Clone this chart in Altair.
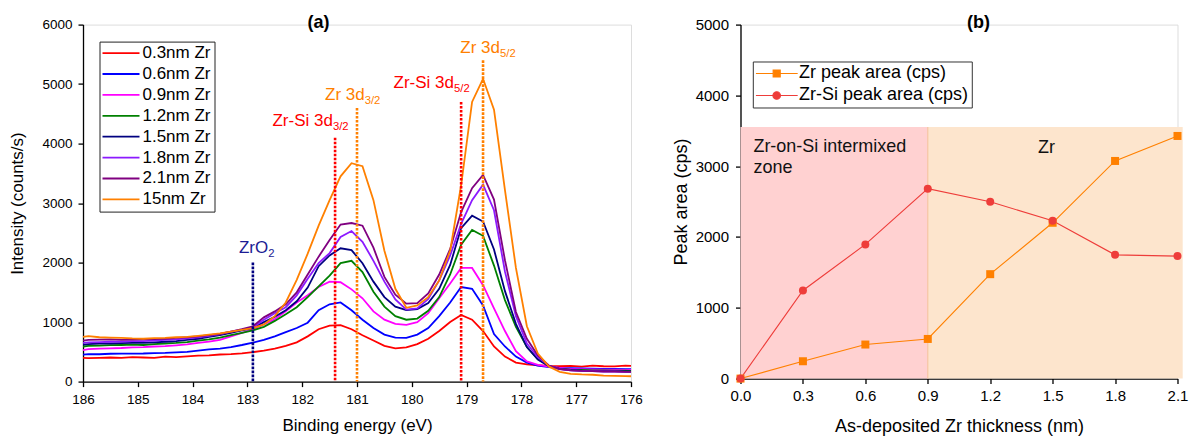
import altair as alt
import pandas as pd

FONT = "Liberation Sans"

# ---------------- (a) Zr 3d XPS spectra ----------------
energy = [186.0, 185.9, 185.7, 185.5, 185.3, 185.1, 184.9, 184.7, 184.5, 184.3,
          184.1, 183.9, 183.7, 183.5, 183.3, 183.1, 182.9, 182.7, 182.5, 182.3,
          182.1, 181.9, 181.7, 181.5, 181.3, 181.1, 180.9, 180.7, 180.5, 180.3,
          180.1, 179.9, 179.7, 179.5, 179.3, 179.1, 178.9, 178.7, 178.5, 178.3,
          178.1, 177.9, 177.7, 177.5, 177.3, 177.1, 176.9, 176.7, 176.5, 176.3,
          176.1, 176.0]

zr_03 = [400, 395, 400, 405, 400, 410, 405, 400, 418, 412, 425, 438, 440, 455, 462, 475,
         495, 520, 555, 600, 660, 760, 880, 940, 950, 880, 780, 690, 600, 560, 575, 630,
         720, 850, 1000, 1120, 1040, 850, 590, 420, 320, 290, 275, 265, 260, 265, 250, 270,
         258, 255, 270, 265]
zr_06 = [455, 462, 460, 468, 470, 470, 472, 480, 482, 490, 500, 520, 540, 555, 580, 615,
         655, 700, 760, 830, 900, 990, 1200, 1300, 1330, 1200, 1040, 900, 790, 740, 735, 790,
         900, 1100, 1330, 1590, 1560, 1280, 800, 590, 420, 320, 270, 245, 232, 225, 220, 218,
         215, 212, 210, 208]
zr_09 = [530, 545, 555, 560, 565, 575, 580, 590, 595, 610, 625, 650, 670, 700, 760, 820,
         880, 960, 1050, 1180, 1330, 1450, 1590, 1680, 1670, 1550, 1400, 1180, 1040, 970, 955, 1000,
         1150, 1400, 1650, 1910, 1910, 1620, 1230, 850, 510, 340, 280, 250, 230, 215, 210, 205,
         200, 200, 195, 195]
zr_12 = [590, 600, 605, 612, 615, 620, 615, 630, 640, 650, 665, 690, 710, 740, 780, 820,
         860, 920, 1020, 1130, 1250, 1420, 1600, 1780, 1990, 2030, 1840, 1510, 1260, 1100, 1040, 1060,
         1190, 1420, 1800, 2300, 2550, 2450, 1950, 1370, 920, 580, 380, 265, 215, 200, 195, 190,
         190, 185, 185, 180]
zr_15 = [620, 630, 640, 640, 645, 650, 650, 660, 670, 680, 700, 720, 750, 780, 820, 860,
         900, 1000, 1090, 1200, 1350, 1580, 1940, 2120, 2240, 2210, 1990, 1680, 1420, 1260, 1200, 1220,
         1320, 1560, 1960, 2580, 2790, 2690, 2220, 1520, 970, 580, 370, 260, 215, 195, 185, 180,
         178, 175, 172, 170]
zr_18 = [650, 660, 665, 670, 672, 680, 680, 690, 700, 710, 725, 745, 770, 800, 840, 875,
         910, 1040, 1150, 1250, 1450, 1730, 1990, 2160, 2430, 2530, 2350, 2030, 1680, 1380, 1210, 1230,
         1390, 1700, 2120, 2650, 3050, 3310, 2880, 1850, 1100, 640, 410, 270, 210, 190, 180, 175,
         170, 170, 165, 165]
zr_21 = [690, 700, 705, 710, 700, 705, 710, 715, 720, 735, 745, 760, 780, 800, 840, 880,
         930, 1080, 1180, 1300, 1500, 1800, 2100, 2380, 2640, 2665, 2620, 2250, 1760, 1460, 1310, 1320,
         1480, 1800, 2230, 2850, 3250, 3475, 3060, 2040, 1170, 720, 440, 270, 210, 190, 180, 175,
         170, 170, 165, 165]
zr_150 = [750, 765, 745, 740, 735, 725, 720, 730, 735, 745, 750, 770, 790, 810, 840, 870,
          900, 960, 1100, 1330, 1710, 2150, 2620, 3050, 3450, 3670, 3620, 3050, 2200, 1560, 1240, 1280,
          1420, 1700, 2200, 3300, 4700, 5090, 4570, 3220, 1910, 930, 470, 255, 165, 130, 120, 115,
          100, 95, 92, 90]

series_names = ["0.3nm Zr", "0.6nm Zr", "0.9nm Zr", "1.2nm Zr",
                "1.5nm Zr", "1.8nm Zr", "2.1nm Zr", "15nm Zr"]
series_values = [zr_03, zr_06, zr_09, zr_12, zr_15, zr_18, zr_21, zr_150]
series_colors = ["#ff0000", "#0000ff", "#ff00ff", "#008000",
                 "#000080", "#8c1aff", "#800080", "#ff8000"]

# reference binding energies marked with dotted lines
peak_main = ["ZrO", "Zr-Si 3d", "Zr 3d", "Zr-Si 3d", "Zr 3d"]
peak_sub = ["2", "3/2", "3/2", "5/2", "5/2"]
peak_energy = [182.9, 181.4, 181.0, 179.1, 178.7]
peak_top = [2000, 4100, 4600, 4700, 5400]
label_energy = [182.62, 181.44, 180.86, 179.23, 178.39]
label_intensity = [2165, 4300, 4740, 4940, 5530]
peak_colors = ["#000080", "#ff0000", "#ff8000", "#ff0000", "#ff8000"]
label_colors = ["#1c1c94", "#ff0000", "#ff8000", "#ff0000", "#ff8000"]

# ---------------- (b) peak areas ----------------
thickness = [0.0, 0.3, 0.6, 0.9, 1.2, 1.5, 1.8, 2.1]
zr_area = [0, 245, 481, 560, 1475, 2201, 3074, 3427]
zrsi_area = [0, 1245, 1895, 2682, 2498, 2229, 1748, 1730]
area_names = ["Zr peak area (cps)", "Zr-Si peak area (cps)"]
area_colors = ["#ff8000", "#ee3d3a"]
area_shapes = ["square", "circle"]
# legend glyphs: a short line with the marker in its middle
legend_glyphs = [
    "M-4.2,0H-0.7M-0.7,-0.7H0.7V0.7H-0.7ZM0.7,0H4.2",
    "M-4.2,0H-0.75M-0.75,0A0.75,0.75 0 1,0 0.75,0A0.75,0.75 0 1,0 -0.75,0ZM0.75,0H4.2",
]

zone_text = ["Zr-on-Si intermixed\nzone", "Zr"]
zone_start = [0.0, 0.9]
zone_end = [0.9, 2.125]
zone_top = [3555, 3555]
zone_label_x = [0.062, 1.43]
zone_label_y = [3205, 3190]
zone_colors = ["#ffd1d1", "#fde5cd"]

# ---------------- tables ----------------
spectra = pd.DataFrame(
    [{"energy": e, "intensity": v, "series": name}
     for name, vals in zip(series_names, series_values)
     for e, v in zip(energy, vals)]
)
markers = pd.DataFrame({"energy": peak_energy, "top": peak_top, "color": peak_colors})
labels = pd.DataFrame({"main": peak_main, "sub": peak_sub, "x": label_energy,
                       "y": label_intensity, "color": label_colors})

areas = pd.DataFrame(
    [{"thickness": t, "area": a, "series": area_names[0], "color": area_colors[0],
      "shape": area_shapes[0]} for t, a in zip(thickness, zr_area)]
    + [{"thickness": t, "area": a, "series": area_names[1], "color": area_colors[1],
        "shape": area_shapes[1]} for t, a in zip(thickness, zrsi_area)]
)
zones = pd.DataFrame({"start": zone_start, "end": zone_end, "top": zone_top,
                      "color": zone_colors, "text": zone_text,
                      "lx": zone_label_x, "ly": zone_label_y})
legend_rows = pd.DataFrame({"series": area_names})


def minor_size(test, major=5, minor=3):
    return {"condition": {"test": test, "value": minor}, "value": major}


axis_common = dict(labelFont=FONT, titleFont=FONT, labelColor="black", titleColor="black",
                   domainColor="black", tickColor="black", domainWidth=1.3, tickWidth=1.3,
                   labelOverlap=False, labelFlush=False, grid=False, titleFontWeight="normal")

# ---------------- panel (a) ----------------
xa_ticks = [176 + 0.5 * i for i in range(21)]
ya_ticks = [250 * i for i in range(25)]

xa = alt.X("energy:Q", title="Binding energy (eV)",
           scale=alt.Scale(domain=[176, 186], reverse=True, nice=False, zero=False),
           axis=alt.Axis(values=xa_ticks, format="d",
                         labelExpr="datum.value % 1 === 0 ? datum.label : ''",
                         tickSize=minor_size("datum.value % 1 !== 0"),
                         labelFontSize=13.5, titleFontSize=17, labelPadding=5.5,
                         titlePadding=12.3, **axis_common))
ya = alt.Y("intensity:Q", title="Intensity (counts/s)",
           scale=alt.Scale(domain=[0, 6000], nice=False),
           axis=alt.Axis(values=ya_ticks, format="d",
                         labelExpr="datum.value % 500 === 0 ? datum.label : ''",
                         tickSize=minor_size("datum.value % 500 !== 0"),
                         labelFontSize=13.5, titleFontSize=17, labelPadding=6,
                         titlePadding=15, **axis_common))

legend_a = alt.Legend(title=None, orient="none", legendX=16.5, legendY=17, padding=3,
                      rowPadding=2.9, clipHeight=17, symbolType="stroke", symbolSize=1444,
                      symbolStrokeWidth=1.8, symbolOffset=-2, labelOffset=2,
                      labelFont=FONT, labelFontSize=17, labelColor="black",
                      strokeColor="#222222", fillColor="white")

spectra_lines = alt.Chart(spectra).mark_line(strokeWidth=1.8).encode(
    x=xa, y=ya,
    color=alt.Color("series:N", scale=alt.Scale(domain=series_names, range=series_colors),
                    legend=legend_a, sort=series_names),
)
peak_rules = alt.Chart(markers).mark_rule(strokeWidth=2.6, strokeDash=[2.6, 1.4]).encode(
    x="energy:Q", y="top:Q", y2=alt.datum(0),
    color=alt.Color("color:N", scale=None),
)
peak_main_text = alt.Chart(labels).mark_text(
    align="right", baseline="alphabetic", font=FONT, fontSize=17).encode(
    x="x:Q", y="y:Q", text="main:N", color=alt.Color("color:N", scale=None))
peak_sub_text = alt.Chart(labels).mark_text(
    align="left", baseline="alphabetic", font=FONT, fontSize=11.3, dy=4).encode(
    x="x:Q", y="y:Q", text="sub:N", color=alt.Color("color:N", scale=None))

panel_a = alt.layer(spectra_lines, peak_rules, peak_main_text, peak_sub_text).properties(
    width=548, height=357,
    title=alt.TitleParams("(a)", font=FONT, fontSize=18, fontWeight="bold", color="black",
                          anchor="middle", frame="group", baseline="alphabetic",
                          offset=-28.2, dx=-38.5),
)

# ---------------- panel (b) ----------------
xb_ticks = [round(0.15 * i, 2) for i in range(15)]
yb_ticks = [500 * i for i in range(11)]

xb = alt.X("thickness:Q", title="As-deposited Zr thickness (nm)",
           scale=alt.Scale(domain=[0, 2.1], nice=False, zero=False),
           axis=alt.Axis(values=xb_ticks, format=".1f",
                         labelExpr="round(datum.value * 100) % 30 === 0 ? datum.label : ''",
                         tickSize=minor_size("round(datum.value * 100) % 30 !== 0"),
                         labelFontSize=15, titleFontSize=18, labelPadding=4.7,
                         titlePadding=14, **axis_common))
yb = alt.Y("area:Q", title="Peak area (cps)",
           scale=alt.Scale(domain=[0, 5000], nice=False),
           axis=alt.Axis(values=yb_ticks, format="d",
                         labelExpr="datum.value % 1000 === 0 ? datum.label : ''",
                         tickSize=minor_size("datum.value % 1000 !== 0"),
                         labelFontSize=15, titleFontSize=18, labelPadding=7,
                         titlePadding=5, **axis_common))

zone_rects = alt.Chart(zones).mark_rect().encode(
    x=alt.X("start:Q", scale=alt.Scale(domain=[0, 2.1], nice=False, zero=False)),
    x2="end:Q", y="top:Q", y2=alt.datum(0),
    color=alt.Color("color:N", scale=None),
)
zone_edge = alt.Chart(zones).transform_filter("datum.start > 0").mark_rule(
    color="#f6c4a2", strokeWidth=1.2).encode(x="start:Q", y="top:Q", y2=alt.datum(0))
zone_labels = alt.Chart(zones).mark_text(
    align="left", baseline="alphabetic", font=FONT, fontSize=18, color="#111111",
    lineBreak="\n", lineHeight=21.5).encode(x="lx:Q", y="ly:Q", text="text:N")

area_lines = alt.Chart(areas).mark_line(strokeWidth=1.1).encode(
    x=xb, y=yb, color=alt.Color("color:N", scale=None), detail="series:N")
area_points = alt.Chart(areas).mark_point(filled=True, size=64, opacity=1).encode(
    x="thickness:Q", y="area:Q",
    color=alt.Color("color:N", scale=None),
    shape=alt.Shape("shape:N", scale=None),
)

legend_b = alt.Legend(title=None, orient="none", legendX=12.3, legendY=36.9, padding=3,
                      rowPadding=4, clipHeight=18, symbolSize=100, symbolStrokeWidth=1.2,
                      symbolOffset=11.9, labelOffset=13.4, symbolOpacity=1, labelLimit=400,
                      labelFont=FONT, labelFontSize=18, labelColor="black",
                      strokeColor="#333333", fillColor="white")
legend_domain = alt.Scale(domain=area_names, range=area_colors)
legend_layer = alt.Chart(legend_rows).transform_filter("false").mark_point(filled=True).encode(
    fill=alt.Fill("series:N", scale=legend_domain, legend=legend_b),
    stroke=alt.Stroke("series:N", scale=legend_domain, legend=legend_b),
    shape=alt.Shape("series:N", scale=alt.Scale(domain=area_names, range=legend_glyphs),
                    legend=legend_b),
)

panel_b = alt.layer(zone_rects, zone_edge, area_lines, area_points, zone_labels,
                    legend_layer).properties(
    width=437, height=354,
    title=alt.TitleParams("(b)", font=FONT, fontSize=18, fontWeight="bold", color="black",
                          anchor="middle", frame="group", baseline="alphabetic",
                          offset=-28.2, dx=19.5),
)

chart = alt.hconcat(panel_a, panel_b, spacing=109.5, bounds="flush").resolve_scale(
    color="independent", fill="independent", stroke="independent", shape="independent",
).properties(
    padding={"left": 8, "top": 12.6, "right": 2, "bottom": 2},
    background="white",
).configure_view(strokeWidth=0).configure(font=FONT)

chart.save("out.html", embed_options={"renderer": "svg", "actions": False})
